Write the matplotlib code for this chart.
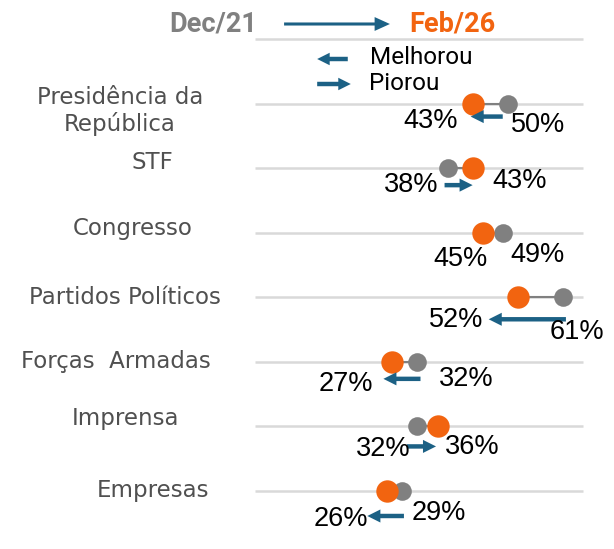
import matplotlib.pyplot as plt
from matplotlib.patches import FancyArrowPatch

# data
categories = ["Presidência da\nRepública", "STF", "Congresso", "Partidos Políticos",
              "Forças  Armadas", "Imprensa", "Empresas"]
dec21 = [50, 38, 49, 61, 32, 32, 29]
feb26 = [43, 43, 45, 52, 27, 36, 26]
show_arrow = [True, True, False, True, True, True, True]

# layout tweaks (pixels / value units), not data
label_x = [-27.3, -20.9, -24.7, -26.3, -28.1, -26.3, -20.7]
label_dy = [0.11, -0.09, -0.06, 0.0, 0.0, -0.12, 0.0]
left_off = [(-42, 17), (-36, 17), (-22, 26), (-62, 23), (-47, 22), (-34, 23), (-47, 28)]
right_off = [(30, 21), (47, 13), (35, 22), (14, 35), (49, 17), (35, 21), (36, 22)]
tail_off = [-1.0, -0.6, 0, 0.6, 0.6, -2.1, 0.3]
head_off = [-0.4, 0.0, 0, -5.8, -1.8, -0.3, -4.0]
arrow_dy = [13, 17, 0, 22, 17, 20, 25]

ORANGE = '#F26410'
GRAY = '#808080'
BLUE = '#1C6185'

fig = plt.figure(figsize=(6.14, 5.49), dpi=100)
ax = fig.add_axes([0, 0, 1, 1])
px_per = 5.015
x0 = 257
row_h = 64.57
y0 = 39
ax.set_xlim(-x0 / px_per, (614 - x0) / px_per)
ax.set_ylim((549 - y0) / row_h, -y0 / row_h)
ax.axis('off')


def arrow(x1, x2, y, tail=0.16, head=0.47, hl=0.47):
    style = "simple,head_length=%s,head_width=%s,tail_width=%s" % (hl, head, tail)
    ax.add_patch(FancyArrowPatch((x1, y), (x2, y), arrowstyle=style, mutation_scale=20,
                                 color=BLUE, lw=0, shrinkA=0, shrinkB=0, zorder=5))


# grid lines (header row + one per category)
for i in range(len(categories) + 1):
    ax.plot([-0.4, 65], [i, i], color='#d9d9d9', lw=1.8, zorder=1, solid_capstyle='butt')

for k, name in enumerate(categories):
    row = k + 1
    g, o = dec21[k], feb26[k]
    ax.plot([g, o], [row, row], color=GRAY, lw=1.5, zorder=2)
    ax.scatter([g], [row], s=180, color=GRAY, zorder=3, linewidths=0)
    ax.scatter([o], [row], s=260, color=ORANGE, zorder=4, linewidths=0)

    ax.text(label_x[k], row + label_dy[k], name, ha='center', va='center',
            fontsize=16.5, family='DejaVu Sans', color='#505050', linespacing=1.15)

    lo, hi = min(g, o), max(g, o)
    ax.annotate("%d%%" % lo, (lo, row), xytext=(left_off[k][0], -left_off[k][1]),
                textcoords='offset pixels', ha='center', va='center',
                fontsize=19.5, family='Liberation Sans', color='black', zorder=6)
    ax.annotate("%d%%" % hi, (hi, row), xytext=(right_off[k][0], -right_off[k][1]),
                textcoords='offset pixels', ha='center', va='center',
                fontsize=19.5, family='Liberation Sans', color='black', zorder=6)

    if show_arrow[k]:
        arrow(g + tail_off[k], o + head_off[k], row + arrow_dy[k] / row_h)

# header
hy = -15 / row_h
ax.text(-8.8, hy, "Dec/21", ha='center', va='center', fontsize=19.5,
        family='Roboto', weight='bold', color=GRAY)
ax.text(38.9, hy, "Feb/26", ha='center', va='center', fontsize=19.5,
        family='Roboto', weight='bold', color=ORANGE)
arrow(5.4, 26.5, hy, tail=0.11, head=0.5, hl=0.55)

# legend
arrow(18.1, 12.0, 20 / row_h, tail=0.16, head=0.45, hl=0.45)
ax.text(22.5, 18 / row_h, "Melhorou", ha='left', va='center', fontsize=17.5,
        family='Roboto', color='black')
arrow(12.0, 18.7, 45 / row_h, tail=0.16, head=0.45, hl=0.45)
ax.text(22.3, 44 / row_h, "Piorou", ha='left', va='center', fontsize=17.5,
        family='Roboto', color='black')

fig.savefig('out.png', dpi=100)
